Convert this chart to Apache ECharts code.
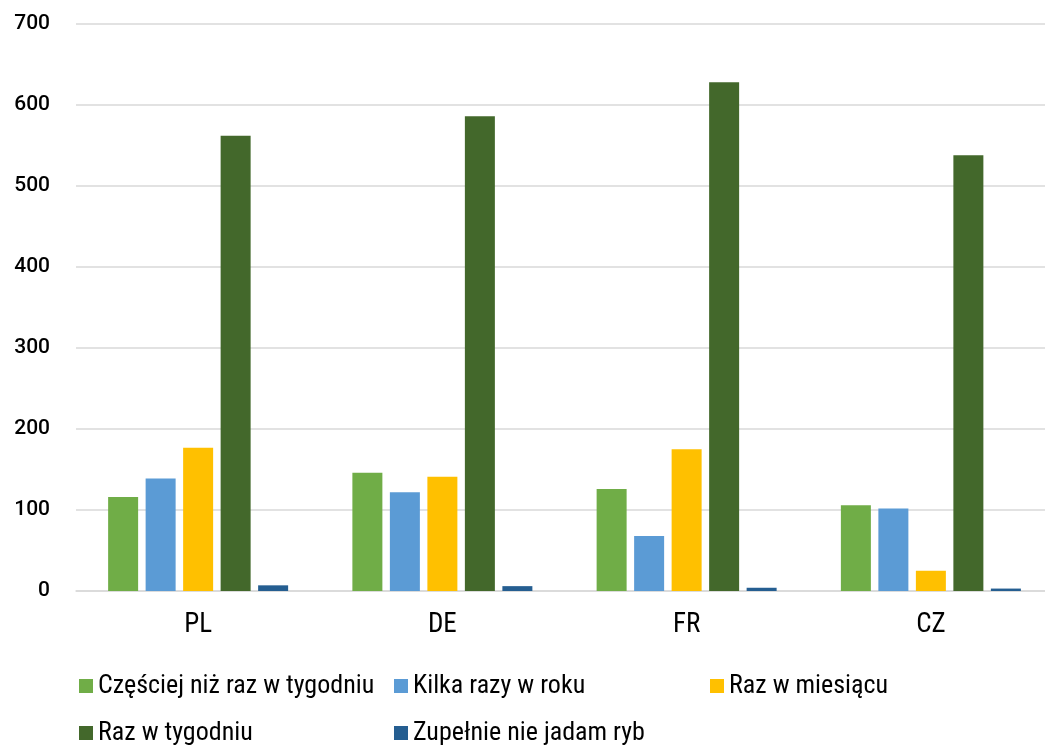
<!DOCTYPE html>
<html>
<head>
<meta charset="utf-8">
<script src="https://cdn.jsdelivr.net/npm/echarts@6/dist/echarts.min.js"></script>
<style>
html,body{margin:0;padding:0;background:#fff;}
#chart{width:1045px;height:745px;}
</style>
</head>
<body>
<div id="chart"></div>
<script>
const categories = ['PL', 'DE', 'FR', 'CZ'];
const seriesNames = ['Częściej niż raz w tygodniu', 'Kilka razy w roku', 'Raz w miesiącu', 'Raz w tygodniu', 'Zupełnie nie jadam ryb'];
const czesciej = [116, 146, 126, 106];
const kilka = [139, 122, 68, 102];
const miesiac = [177, 141, 175, 25];
const tydzien = [562, 586, 628, 538];
const wcale = [7, 6, 4, 3];
const yTicks = [0, 100, 200, 300, 400, 500, 600, 700];

const colors = ['#70AD47', '#5B9BD5', '#FFC000', '#43682B', '#255E91'];
const values = [czesciej, kilka, miesiac, tydzien, wcale];
const condensed = '"Liberation Sans Narrow", "Roboto Condensed", "DejaVu Sans Condensed", Roboto, sans-serif';

const legendPos = [[74, 668], [389, 668], [705, 668], [74, 715], [389, 715]];

const chart = echarts.init(document.getElementById('chart'));
chart.setOption({
  animation: false,
  grid: {left: 76, right: -8, top: 24, bottom: 154, containLabel: false, outerBoundsMode: 'none'},
  legend: seriesNames.map((n, i) => ({
    data: [n],
    left: legendPos[i][0],
    top: legendPos[i][1],
    itemWidth: 14,
    itemHeight: 14,
    itemGap: 0,
    icon: 'rect',
    selectedMode: false,
    textStyle: {fontFamily: condensed, fontSize: 26, color: '#000'}
  })),
  xAxis: {
    type: 'category',
    data: categories,
    axisTick: {show: false},
    axisLine: {lineStyle: {color: '#d9d9d9', width: 1.5}},
    axisLabel: {fontFamily: condensed, fontSize: 27, color: '#000', margin: 21}
  },
  yAxis: {
    type: 'value',
    min: yTicks[0],
    max: yTicks[yTicks.length - 1],
    interval: 100,
    axisLine: {show: false},
    axisTick: {show: false},
    splitLine: {lineStyle: {color: '#d9d9d9', width: 1.5}},
    axisLabel: {fontFamily: 'Roboto, sans-serif', fontWeight: 500, fontSize: 21, color: '#000', margin: 26}
  },
  series: seriesNames.map((n, i) => ({
    name: n,
    type: 'bar',
    data: values[i],
    barWidth: 30,
    barGap: '25%',
    itemStyle: {color: colors[i]}
  }))
});
</script>
</body>
</html>
